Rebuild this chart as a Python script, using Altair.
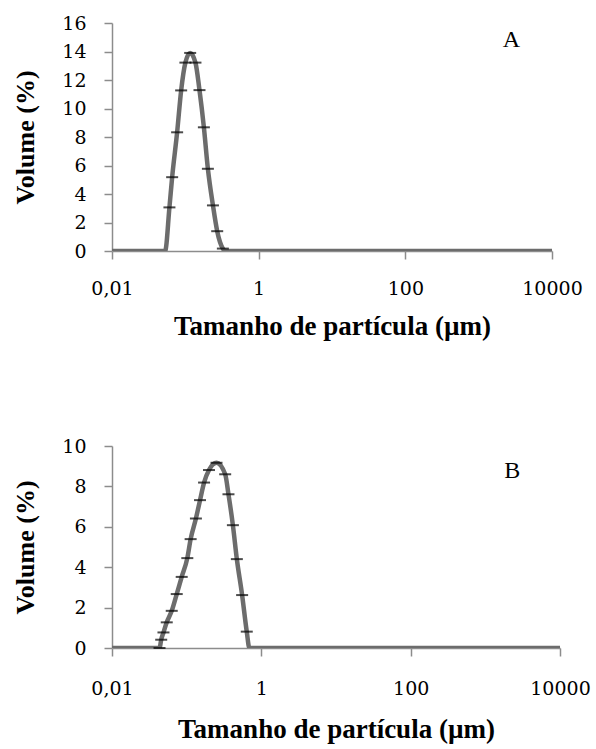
import altair as alt
import pandas as pd

# Particle size distributions (volume %) for samples A and B
size_a = [0.01, 0.053, 0.0607, 0.0661, 0.0773, 0.0877, 0.1002, 0.1164, 0.1374,
          0.156, 0.179, 0.203, 0.238, 0.272, 0.325, 0.35, 10000]
vol_a = [0, 0, 3.06, 5.18, 8.33, 11.27, 13.22, 13.9, 13.22,
         11.29, 8.68, 5.77, 3.2, 1.39, 0.17, 0, 0]
cap_a = [0, 0, 1, 1, 1, 1, 1, 1, 1, 1, 1, 1, 1, 1, 1, 0, 0]

size_b = [0.01, 0.0398, 0.0433, 0.0456, 0.0489, 0.0541, 0.0631, 0.0736, 0.0858,
          0.102, 0.113, 0.133, 0.151, 0.171, 0.199, 0.251, 0.328, 0.363,
          0.416, 0.470, 0.553, 0.638, 0.692, 10000]
vol_b = [0, 0, 0, 0.41, 0.77, 1.27, 1.84, 2.67, 3.52,
         4.45, 5.39, 6.41, 7.32, 8.19, 8.81, 9.17, 8.6, 7.61,
         6.08, 4.40, 2.62, 0.81, 0, 0]
cap_b = [0, 0, 1, 1, 1, 1, 1, 1, 1, 1, 1, 1, 1, 1, 1, 1, 1, 1, 1, 1, 1, 1, 0, 0]

x_ticks = [0.01, 1, 100, 10000]
x_tick_labels = ["0,01", "1", "100", "10000"]
y_ticks_a = [0, 2, 4, 6, 8, 10, 12, 14, 16]
y_ticks_b = [0, 2, 4, 6, 8, 10]

x_title = "Tamanho de partícula (µm)"
y_title = "Volume (%)"

SERIF = "Liberation Serif"
LABEL_FONT = "DejaVu Serif"
AXIS_GRAY = "#8c8c8c"
LINE_GRAY = "#6c6c6c"

label_expr = " : ".join(
    f"datum.value == {v} ? '{t}'" for v, t in zip(x_ticks, x_tick_labels)
) + " : ''"


def x_axis(label_pad, title_pad):
    return alt.Axis(
        values=x_ticks, labelExpr=label_expr, grid=False,
        title=x_title, titleFont=SERIF, titleFontSize=27, titleFontWeight="bold",
        titleColor="black", titlePadding=title_pad,
        labelFont=LABEL_FONT, labelFontSize=19, labelColor="black", labelPadding=label_pad,
        labelFlush=False, labelOverlap=False,
        tickSize=8, tickColor=AXIS_GRAY, tickWidth=1.5,
        domainColor=AXIS_GRAY, domainWidth=1.5,
    )


def y_axis(values):
    return alt.Axis(
        values=values, tickCount=len(values), grid=False,
        title=y_title, titleFont=SERIF, titleFontSize=26, titleFontWeight="bold",
        titleColor="black", titlePadding=23,
        labelFont=LABEL_FONT, labelFontSize=19, labelColor="black", labelPadding=18,
        labelOverlap=False,
        tickSize=8, tickColor=AXIS_GRAY, tickWidth=1.5,
        domainColor=AXIS_GRAY, domainWidth=1.5,
    )


def panel(sizes, vols, caps, yticks, ymax, letter, letter_x, letter_y, w, h,
          label_pad, title_pad):
    df = pd.DataFrame({"size": sizes, "vol": vols, "cap": caps})
    xs = alt.Scale(type="log", domain=[0.01, 10000], nice=False)
    ys = alt.Scale(domain=[0, ymax], nice=False)
    xax = x_axis(label_pad, title_pad)
    yax = y_axis(yticks)
    line = alt.Chart(df).mark_line(
        color=LINE_GRAY, strokeWidth=4.5, interpolate="monotone", clip=True
    ).encode(
        x=alt.X("size:Q", scale=xs, axis=xax),
        y=alt.Y("vol:Q", scale=ys, axis=yax),
    )
    ticks = alt.Chart(df).transform_filter("datum.cap == 1").mark_tick(
        orient="horizontal", color="black", size=12, thickness=2
    ).encode(
        x=alt.X("size:Q", scale=xs, axis=xax),
        y=alt.Y("vol:Q", scale=ys, axis=yax),
    )
    lab = alt.Chart(pd.DataFrame({"x": [letter_x], "y": [letter_y], "t": [letter]})).mark_text(
        font=SERIF, fontSize=24, color="black"
    ).encode(
        x=alt.X("x:Q", scale=xs, axis=xax),
        y=alt.Y("y:Q", scale=ys, axis=yax),
        text="t:N",
    )
    return alt.layer(line, ticks, lab).properties(width=w, height=h)


top = panel(size_a, vol_a, cap_a, y_ticks_a, 16, "A", 2800, 14.8, 440, 228, 20, 15)
bottom = panel(size_b, vol_b, cap_b, y_ticks_b, 10, "B", 2300, 8.75, 448, 202, 23, 18)

chart = alt.vconcat(top, bottom, spacing=98).properties(
    padding={"top": 14, "left": 12, "right": 5, "bottom": 5},
    background="white",
).configure_view(stroke=None)

chart.save("out.html", embed_options={"renderer": "svg", "actions": False})
